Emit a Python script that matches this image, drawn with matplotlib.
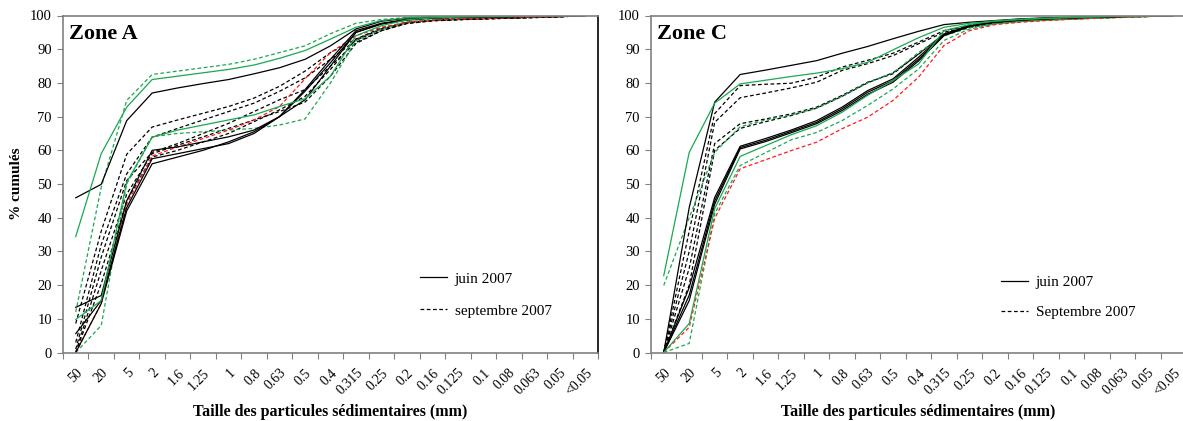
import numpy as np
import matplotlib
matplotlib.use("Agg")
import matplotlib.pyplot as plt
from matplotlib.lines import Line2D

plt.rcParams['font.family'] = ['Liberation Serif', 'DejaVu Serif']

# Size classes (mm)
tailles = ["50", "20", "5", "2", "1.6", "1.25", "1", "0.8", "0.63", "0.5", "0.4",
           "0.315", "0.25", "0.2", "0.16", "0.125", "0.1", "0.08", "0.063", "0.05", "<0.05"]

# Zone A - cumulative %
zoneA_juin_noir = [
    [45.9, 49.9, 68.8, 77, 78.5, 79.8, 81, 82.7, 84.5, 87, 91, 96, 98.3, 99.2, 99.6, 99.8, 99.9, 99.9, 100, 100, 100],
    [13.4, 16.9, 45, 60, 61, 62.5, 64, 66, 70, 75, 85, 95, 97.5, 98.8, 99.3, 99.5, 99.6, 99.7, 99.8, 99.9, 100],
    [5.6, 15.4, 43, 57.5, 59, 60.5, 62, 65, 70, 77.5, 86, 95, 97.5, 98.6, 99.2, 99.4, 99.5, 99.6, 99.7, 99.8, 100],
    [0, 14.5, 42, 56, 58, 60, 62.5, 65.5, 70, 78, 87, 95.5, 97.7, 98.8, 99.3, 99.5, 99.6, 99.7, 99.8, 99.9, 100],
]
zoneA_juin_vert = [
    [34.4, 59, 72.8, 81, 82, 83, 84, 85.3, 87.3, 89.6, 93, 96.5, 98.5, 99.3, 99.6, 99.8, 99.9, 99.9, 100, 100, 100],
    [9.8, 15.4, 50.5, 63.9, 66, 67.5, 69, 70.5, 73, 75.3, 82, 94, 97, 98.7, 99.3, 99.5, 99.6, 99.7, 99.8, 99.9, 100],
]
zoneA_sept_noir = [
    [8.6, 36, 58.8, 66.9, 69, 71, 73, 75.5, 79, 83.5, 89, 93, 96, 98, 98.6, 98.9, 99.1, 99.3, 99.5, 99.7, 100],
    [3, 32, 53, 63.9, 66.5, 69, 71.5, 74, 77.5, 81.5, 87, 92.6, 96, 97.8, 98.5, 98.8, 99, 99.2, 99.4, 99.6, 100],
    [1, 28.3, 51, 59.4, 62, 65, 68, 71.5, 75, 78, 85, 92, 95.5, 97.6, 98.4, 98.7, 99, 99.2, 99.4, 99.6, 100],
    [0, 24.3, 47, 59, 61.5, 64, 66.5, 69, 71.5, 74.3, 82, 91.7, 95.5, 97.7, 98.5, 98.8, 99, 99.2, 99.4, 99.6, 100],
    [0, 20.4, 45, 58, 60, 62.5, 65, 68.5, 72, 76, 84, 93, 96.3, 98, 98.6, 98.9, 99.1, 99.3, 99.5, 99.7, 100],
]
zoneA_sept_vert = [
    [12, 49, 74.8, 82.5, 83.5, 84.5, 85.5, 87, 89, 91, 94.6, 97.7, 98.8, 99.4, 99.7, 99.8, 99.9, 99.9, 100, 100, 100],
    [0, 8, 50, 64, 65, 65.5, 66, 66.5, 67.5, 69.3, 80, 92.5, 96, 98, 98.8, 99.2, 99.4, 99.5, 99.6, 99.8, 100],
]
zoneA_sept_rouge = [
    [0, 14.5, 44, 58.3, 61, 63.5, 66, 69, 73, 81.2, 89, 94, 96.5, 98, 98.6, 98.9, 99.1, 99.3, 99.5, 99.7, 100],
]

# Zone C - cumulative %
zoneC_juin_noir = [
    [0, 43, 74.3, 82.5, 83.8, 85.2, 86.6, 88.8, 90.8, 93.1, 95.3, 97.3, 98, 98.5, 99, 99.3, 99.5, 99.7, 99.8, 99.9, 100],
    [0, 19.3, 46, 61.2, 63.5, 66, 68.8, 72.8, 77.7, 81.2, 87.6, 94.5, 97, 98.3, 98.9, 99.2, 99.4, 99.6, 99.8, 99.9, 100],
    [0, 17, 45, 60.8, 63, 65.6, 68.3, 72.3, 77.2, 80.7, 87, 94.2, 96.8, 98.2, 98.8, 99.1, 99.3, 99.5, 99.7, 99.9, 100],
    [0, 15.4, 44, 60.4, 62.6, 65.2, 67.9, 71.8, 76.6, 80.2, 86.5, 94, 96.7, 98.1, 98.7, 99, 99.3, 99.5, 99.7, 99.9, 100],
]
zoneC_juin_vert = [
    [22.8, 59.4, 74, 79.7, 80.8, 81.9, 82.9, 84.2, 86.1, 89.8, 93.4, 96.5, 97.7, 98.3, 98.8, 99.1, 99.4, 99.6, 99.8, 99.9, 100],
    [0, 8.6, 42.7, 58.2, 61.4, 64.6, 67.3, 71.3, 76.3, 80.7, 85.6, 95.5, 97.3, 98.4, 98.9, 99.2, 99.4, 99.6, 99.8, 99.9, 100],
]
zoneC_sept_noir = [
    [0, 36, 70.9, 79.2, 79.6, 79.9, 81.7, 84.7, 86.7, 88.8, 92.1, 95.5, 97, 98, 98.5, 98.9, 99.2, 99.4, 99.6, 99.8, 100],
    [0, 30, 68.3, 75.6, 77, 78.5, 80.2, 83.7, 85.7, 88.1, 91.6, 95, 96.8, 97.8, 98.4, 98.8, 99.1, 99.3, 99.5, 99.7, 100],
    [0, 25, 62, 67.9, 69.3, 70.8, 72.8, 76.3, 80.2, 82.7, 88.6, 94.5, 96.5, 97.7, 98.3, 98.7, 99, 99.3, 99.5, 99.7, 100],
    [0, 20, 60, 66.5, 68.5, 70.3, 72.5, 76, 80, 83, 88.5, 94.5, 96.8, 97.9, 98.5, 98.9, 99.2, 99.4, 99.6, 99.8, 100],
]
zoneC_sept_vert = [
    [19.9, 40, 59.4, 67, 69, 70.5, 72.5, 76, 80, 83, 89, 94, 96.3, 97.5, 98.2, 98.6, 98.9, 99.2, 99.4, 99.7, 100],
    [0, 2.7, 41.2, 55.5, 59.3, 63.1, 65.3, 68.8, 73.3, 78.2, 84.1, 92.6, 96, 97.5, 98.2, 98.6, 98.9, 99.2, 99.5, 99.7, 100],
]
zoneC_sept_rouge = [
    [0, 7.5, 39.8, 54.5, 57.2, 59.9, 62.4, 66.4, 69.8, 74.8, 81.7, 91.1, 95.5, 97.3, 98, 98.5, 98.9, 99.2, 99.5, 99.7, 100],
]

VERT = "#1aa84f"
ROUGE = "#ff1a1a"
DASH = (3, 2)

fig = plt.figure(figsize=(11.83, 4.21), dpi=100)
axA = fig.add_axes([63 / 1183, 1 - 352.5 / 421, 535 / 1183, 337 / 421])
axC = fig.add_axes([651 / 1183, 1 - 352.5 / 421, 535 / 1183, 337 / 421])


def draw_zone(ax, juin_noir, juin_vert, sept_noir, sept_vert, sept_rouge):
    x = np.arange(len(tailles))
    for y in sept_noir:
        ax.plot(x, y, color="black", lw=0.9, dashes=DASH)
    for y in sept_vert:
        ax.plot(x, y, color=VERT, lw=0.9, dashes=DASH)
    for y in sept_rouge:
        ax.plot(x, y, color=ROUGE, lw=0.9, dashes=DASH)
    for y in juin_noir:
        ax.plot(x, y, color="black", lw=0.9)
    for y in juin_vert:
        ax.plot(x, y, color=VERT, lw=0.9)

    ax.set_xlim(-0.5, len(tailles) - 0.5)
    ax.set_ylim(0, 100)
    ax.set_yticks(range(0, 101, 10))
    ax.set_xticks(np.arange(-0.5, len(tailles)), [""] * (len(tailles) + 1))
    ax.set_xticks(x, tailles, minor=True)
    ax.tick_params(axis="x", which="major", length=4, width=0.8, color="#808080")
    ax.tick_params(axis="x", which="minor", length=0, pad=10, labelsize=10)
    ax.tick_params(axis="y", length=4, width=0.8, color="#808080", labelsize=10.5, pad=4)
    for lab in ax.get_xticklabels(minor=True):
        lab.set_rotation(45)
        lab.set_ha("right")
        lab.set_rotation_mode("anchor")
    for s in ["left", "bottom", "top"]:
        ax.spines[s].set_color("#808080")
        ax.spines[s].set_linewidth(1.2)
    ax.spines["right"].set_color("black")
    ax.spines["right"].set_linewidth(1.2)
    ax.set_xlabel("Taille des particules sédimentaires (mm)", fontsize=11.5, fontweight="bold", labelpad=4)


draw_zone(axA, zoneA_juin_noir, zoneA_juin_vert, zoneA_sept_noir, zoneA_sept_vert, zoneA_sept_rouge)
draw_zone(axC, zoneC_juin_noir, zoneC_juin_vert, zoneC_sept_noir, zoneC_sept_vert, zoneC_sept_rouge)

axA.set_ylabel("% cumulés", fontsize=11, fontweight="bold", labelpad=5)
axA.text(0.012, 0.975, "Zone A", transform=axA.transAxes, fontsize=16, fontweight="bold", va="top")
axC.text(0.012, 0.975, "Zone C", transform=axC.transAxes, fontsize=16, fontweight="bold", va="top")

handles = [Line2D([], [], color="black", lw=0.9), Line2D([], [], color="black", lw=0.9, dashes=DASH)]
axA.legend(handles, ["juin 2007", "septembre 2007"], loc="upper left", bbox_to_anchor=(0.641, 0.28),
           frameon=False, fontsize=11, handlelength=1.8, handletextpad=0.5, labelspacing=1.2)
axC.legend(handles, ["juin 2007", "Septembre 2007"], loc="upper left", bbox_to_anchor=(0.628, 0.27),
           frameon=False, fontsize=11, handlelength=1.8, handletextpad=0.5, labelspacing=1.1)

fig.savefig("out.png", dpi=100)
